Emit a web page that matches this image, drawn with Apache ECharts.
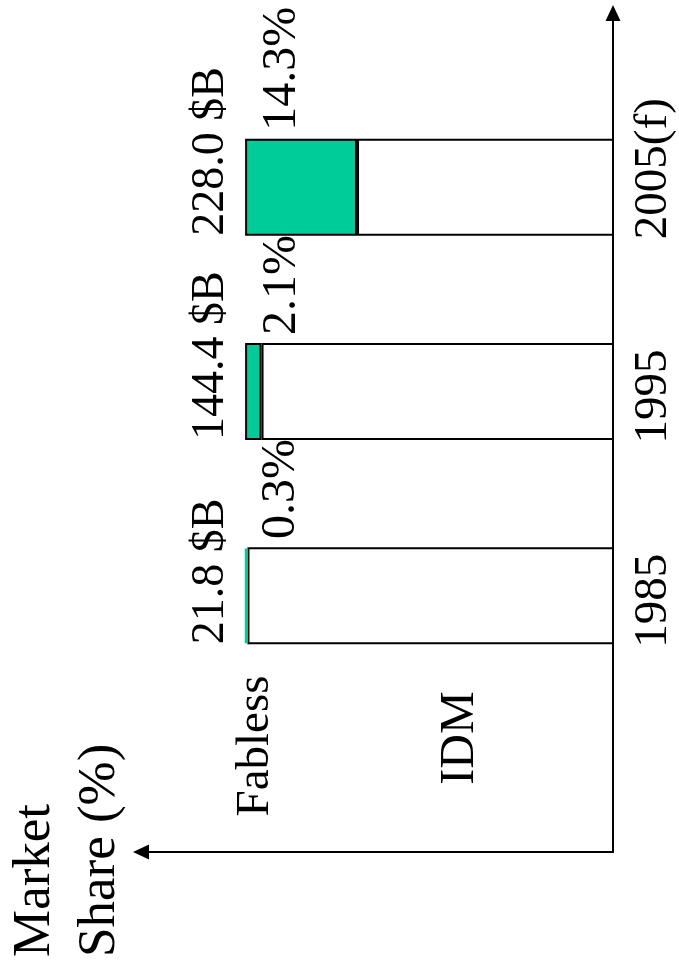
<!DOCTYPE html>
<html>
<head>
<meta charset="utf-8">
<script src="https://cdn.jsdelivr.net/npm/echarts@6/dist/echarts.min.js"></script>
<style>
  html, body { margin: 0; padding: 0; background: #ffffff; }
  #chart { width: 679px; height: 976px; }
</style>
</head>
<body>
<div id="chart"></div>
<script>
// Semiconductor market: fabless vs IDM share per year
const years = ['1985', '1995', '2005(f)'];
const marketSizeLabels = ['21.8 $B', '144.4 $B', '228.0 $B'];
const fablessShare = [0.3, 2.1, 14.3];
const idmShare = [99.7, 97.9, 85.7];
const titleText = 'Market\nShare (%)';

const GREEN = '#00CC99';
const FONT = '"Liberation Serif", "Times New Roman", serif';

const chart = echarts.init(document.getElementById('chart'));

// Whole-bar totals carry the market size labels
const totals = idmShare.map((v, i) => v + fablessShare[i]);

const option = {
  backgroundColor: '#ffffff',
  animation: false,
  grid: [
    // frame with the two arrowed axes
    { left: 141, right: 66, top: 13, bottom: 124 },
    // bars
    { left: 141, right: 66, top: 85, bottom: 278 }
  ],
  xAxis: [
    {
      gridIndex: 0, type: 'value', min: 0, max: 1,
      axisLine: {
        show: true, onZero: false,
        symbol: ['triangle', 'none'], symbolSize: [15, 16],
        lineStyle: { color: '#000', width: 2 }
      },
      axisTick: { show: false }, axisLabel: { show: false }, splitLine: { show: false }
    },
    {
      gridIndex: 1, type: 'value', inverse: true, min: 53, max: 113.3,
      show: false
    }
  ],
  yAxis: [
    {
      gridIndex: 0, type: 'value', position: 'right', min: 0, max: 1,
      axisLine: {
        show: true, onZero: false,
        symbol: ['none', 'triangle'], symbolSize: [15, 16],
        lineStyle: { color: '#000', width: 2 }
      },
      axisTick: { show: false }, axisLabel: { show: false }, splitLine: { show: false }
    },
    {
      gridIndex: 1, type: 'category', position: 'right', data: years,
      axisLine: { show: false }, axisTick: { show: false }, splitLine: { show: false },
      axisLabel: {
        rotate: 90, margin: 41, align: 'left', verticalAlign: 'middle',
        padding: [0, 0, 0, -52],
        fontFamily: FONT, fontSize: 47, color: '#000'
      }
    }
  ],
  series: [
    {
      name: 'IDM', type: 'bar', stack: 'share', xAxisIndex: 1, yAxisIndex: 1,
      barWidth: 97, barGap: '-100%',
      data: idmShare,
      itemStyle: { color: '#ffffff', borderColor: '#000', borderWidth: 2 }
    },
    {
      name: 'Fabless', type: 'bar', stack: 'share', xAxisIndex: 1, yAxisIndex: 1,
      barWidth: 97,
      data: fablessShare.map(v => v < 1
        ? { value: v, itemStyle: { borderColor: GREEN, borderWidth: 3 } }
        : v),
      itemStyle: { color: GREEN, borderColor: '#000', borderWidth: 2 },
      label: {
        show: true, position: [37, -8], rotate: 90,
        align: 'left', verticalAlign: 'middle',
        fontFamily: FONT, fontSize: 48, color: '#000',
        formatter: p => fablessShare[p.dataIndex].toFixed(1) + '%'
      }
    },
    {
      name: 'Total', type: 'bar', xAxisIndex: 1, yAxisIndex: 1,
      barWidth: 97, silent: true, z: 1,
      data: totals,
      itemStyle: { color: 'rgba(0,0,0,0)', borderWidth: 0 },
      label: {
        show: true, position: [-34, '100%'], rotate: 90,
        align: 'left', verticalAlign: 'middle',
        fontFamily: FONT, fontSize: 46, color: '#000',
        formatter: p => marketSizeLabels[p.dataIndex]
      }
    }
  ],
  graphic: [
    {
      type: 'text', x: 68, y: 957, rotation: Math.PI / 2,
      style: {
        text: titleText, fill: '#000', font: '53px ' + FONT, lineHeight: 65,
        align: 'left', verticalAlign: 'middle',
        textAlign: 'left', textVerticalAlign: 'middle'
      }
    },
    {
      type: 'text', x: 256, y: 746, rotation: Math.PI / 2,
      style: {
        text: 'Fabless', fill: '#000', font: '47px ' + FONT,
        align: 'center', verticalAlign: 'middle',
        textAlign: 'center', textVerticalAlign: 'middle'
      }
    },
    {
      type: 'text', x: 460, y: 738, rotation: Math.PI / 2,
      style: {
        text: 'IDM', fill: '#000', font: '48px ' + FONT,
        align: 'center', verticalAlign: 'middle',
        textAlign: 'center', textVerticalAlign: 'middle'
      }
    }
  ]
};

chart.setOption(option);
</script>
</body>
</html>
